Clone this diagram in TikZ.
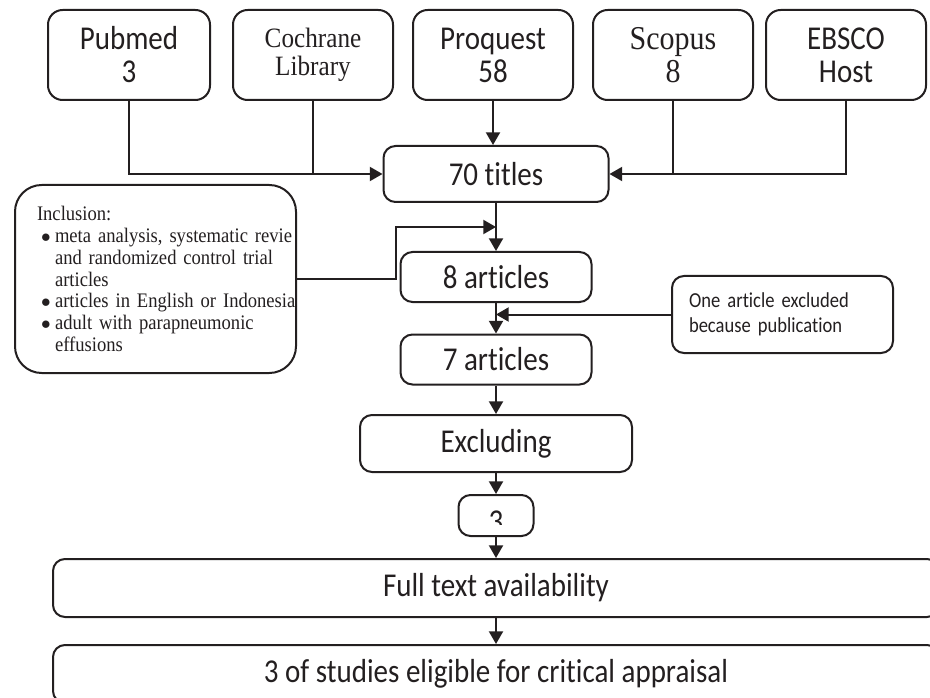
\documentclass[tikz,border=0pt]{standalone}
\usepackage{fontspec}
\usetikzlibrary{arrows.meta}
\newfontfamily\calfont[FakeStretch=0.87,Ligatures={NoCommon,NoContextual}]{Carlito}
\newfontfamily\tnrfont{Liberation Serif}
\newfontfamily\tnrnarrow[FakeStretch=0.9]{Liberation Serif}
\definecolor{ink}{HTML}{231F20}
\tikzset{
  box/.style={draw=ink, line width=1.5pt, rounded corners=9pt, inner sep=0pt, align=center, text=ink},
  srcbox/.style={box, rounded corners=11pt, minimum width=120pt, minimum height=67.5pt},
  bigsans/.style={font=\calfont\fontsize{25pt}{24.75pt}\selectfont},
  conn/.style={draw=ink, line width=1.5pt},
  arr/.style={conn, -{Triangle[length=9.5pt,width=10.5pt]}},
}
\newcommand\mybul{\hspace*{3pt}\makebox[10.5pt][l]{$\bullet$}}
\newcommand\myind{\hspace*{13.5pt}}
\begin{document}
\begin{tikzpicture}[x=0.75pt,y=-0.75pt]
\clip (0,0) rectangle (930,698);
% sources
\node[srcbox, bigsans, minimum width=121.5pt] (pubmed) at (129,55) {Pubmed\\3};
\node[srcbox, font=\tnrnarrow\fontsize{21pt}{21pt}\selectfont] (cochrane) at (313,55) {Cochrane\\Library};
\node[srcbox, bigsans] (proquest) at (493,55) {Proquest\\58};
\node[srcbox, font=\tnrnarrow\fontsize{25pt}{24.75pt}\selectfont] (scopus) at (673,55) {Scopus\\8};
\node[srcbox, bigsans] (ebsco) at (846,55) {EBSCO\\Host};
% main column
\node[box, bigsans, minimum width=168.75pt, minimum height=42pt] (titles) at (496,174) {70 titles};
\node[box, bigsans, minimum width=143.25pt, minimum height=37.5pt] (art8) at (496,277) {8 articles};
\node[box, bigsans, minimum width=143.25pt, minimum height=37.5pt] (art7) at (496,359.5) {7 articles};
\node[box, bigsans, minimum width=204pt, minimum height=42.75pt] (excluding) at (496,443.5) {Excluding};
\node[box, minimum width=56.25pt, minimum height=30.75pt] (three) at (496,515.5) {};
\begin{scope}
  \clip (three.north west) rectangle (three.east |- 0,524);
  \node[bigsans, text=ink, anchor=base, inner sep=0pt] (threetxt) at (496,532) {3};
\end{scope}
\node[box, bigsans, minimum width=664.5pt, minimum height=43.5pt] (full) at (496,588) {Full text availability};
\node[box, bigsans, minimum width=664.5pt, minimum height=43.5pt] (final) at (496,674) {3 of studies eligible for critical appraisal};
% side notes
\node[box, rounded corners=20pt, minimum width=210.75pt, minimum height=141pt, text width=177.75pt, align=left,
      font=\tnrnarrow\fontsize{15.5pt}{16.3pt}\selectfont] (incl) at (155.5,279)
  {\mbox{Inclusion:}\\
   \mbox{\mybul meta analysis, systematic revie}\\
   \mbox{\myind and randomized control trial}\\
   \mbox{\myind articles}\\
   \mbox{\mybul articles in English or Indonesia}\\
   \mbox{\mybul adult with parapneumonic}\\
   \mbox{\myind effusions}};
\node[box, minimum width=165.75pt, minimum height=57.75pt, text width=140.25pt, align=left,
      font=\calfont\fontsize{16pt}{18.75pt}\selectfont] (excl) at (782.5,314.5)
  {\mbox{One article excluded}\\\mbox{because publication}};
% connectors
\coordinate (j1) at (496,227);
\coordinate (k1) at (396,227);
\draw[arr] (pubmed.south) |- (titles.west);
\draw[conn] (cochrane.south) -- (cochrane.south |- titles.west);
\draw[arr] (proquest.south) -- (proquest.south |- titles.north);
\draw[conn] (scopus.south) -- (scopus.south |- titles.east);
\draw[arr] (ebsco.south) |- (titles.east);
\draw[arr] (titles) -- (art8);
\draw[arr] (incl.east) -- (incl.east -| k1) |- (j1);
\draw[arr] (art8) -- (art7);
\draw[arr] (excl.west) -- (excl.west -| art8.south);
\draw[arr] (art7) -- (excluding);
\draw[arr] (excluding) -- (three);
\draw[arr] (three) -- (full);
\draw[arr] (full) -- (final);
\end{tikzpicture}
\end{document}
